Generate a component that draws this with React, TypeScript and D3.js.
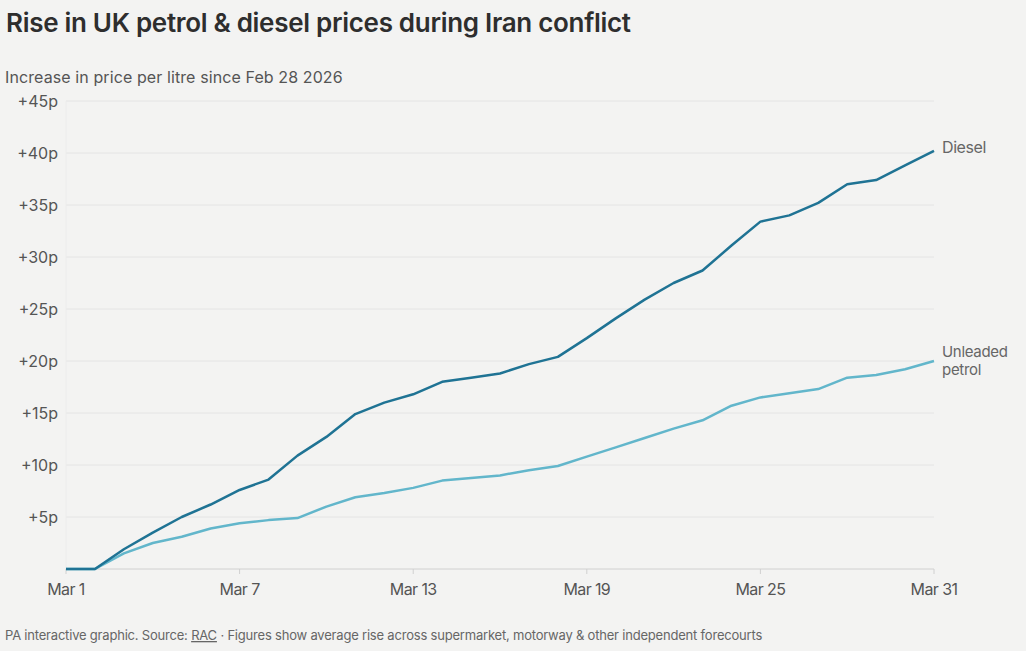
import React from 'react';
import { scaleLinear, line, curveLinear } from 'd3';

// days of March 2026 (1..31)
const days = Array.from({ length: 31 }, (_, i) => i + 1);

// increase in price per litre (pence) since Feb 28 2026
const dieselValues = [
  0, 0, 1.9, 3.5, 5.0, 6.2, 7.6, 8.6, 10.9, 12.7,
  14.9, 16.0, 16.8, 18.0, 18.4, 18.8, 19.7, 20.4, 22.2, 24.1,
  25.9, 27.5, 28.7, 31.1, 33.4, 34.0, 35.2, 37.0, 37.4, 38.8,
  40.2,
];
const petrolValues = [
  0, 0, 1.5, 2.5, 3.1, 3.9, 4.4, 4.7, 4.9, 6.0,
  6.9, 7.3, 7.8, 8.5, 8.75, 9.0, 9.5, 9.9, 10.8, 11.7,
  12.6, 13.5, 14.3, 15.7, 16.5, 16.9, 17.3, 18.4, 18.65, 19.2,
  20.0,
];

const yTicks = [5, 10, 15, 20, 25, 30, 35, 40, 45];
const xTicks = [1, 7, 13, 19, 25, 31];

const DIESEL = '#1f7394';
const PETROL = '#62b6cb';
const FONT = 'Inter, Roboto, "Noto Sans", sans-serif';

const App = () => {
  const width = 1026;
  const height = 651;
  const margin = { left: 66, right: 92, top: 101, bottom: 82 };

  const x = scaleLinear().domain([1, 31]).range([margin.left, width - margin.right]);
  const y = scaleLinear().domain([0, 45]).range([height - margin.bottom, margin.top]);

  const pathFor = (vals: number[]) =>
    line<number>()
      .x((_, i) => x(days[i]))
      .y(d => y(d))
      .curve(curveLinear)(vals) || '';

  const last = days.length - 1;
  const labelX = x(days[last]) + 8;

  return (
    <svg
      width={width}
      height={height}
      style={{ position: 'absolute', left: 0, top: 0, background: '#f3f3f2', fontFamily: FONT }}
    >
      <text x={6} y={32} fontSize={26} fontWeight={600} fill="#2e2e2e" letterSpacing={-0.3}>
        Rise in UK petrol &amp; diesel prices during Iran conflict
      </text>
      <text x={5} y={83} fontSize={16} fill="#555" letterSpacing={0.1}>
        Increase in price per litre since Feb 28 2026
      </text>

      {yTicks.map(t => (
        <g key={t}>
          <line x1={margin.left} x2={width - margin.right} y1={y(t)} y2={y(t)} stroke="#e4e4e4" strokeWidth={1} />
          <text x={58} y={y(t)} dy="0.35em" textAnchor="end" fontSize={16} fill="#555">
            +{t}p
          </text>
        </g>
      ))}

      <line x1={margin.left} x2={margin.left} y1={margin.top} y2={y(0)} stroke="#ececec" />
      <line x1={margin.left} x2={width - margin.right} y1={y(0)} y2={y(0)} stroke="#d0d0d0" />

      {xTicks.map(t => (
        <g key={t}>
          <line x1={x(t)} x2={x(t)} y1={y(0)} y2={y(0) + 5} stroke="#d0d0d0" />
          <text x={x(t)} y={y(0) + 26} textAnchor="middle" fontSize={16} fill="#555" letterSpacing={-0.6}>
            Mar {t}
          </text>
        </g>
      ))}

      <path d={pathFor(petrolValues)} fill="none" stroke={PETROL} strokeWidth={2.5} strokeLinejoin="round" />
      <path d={pathFor(dieselValues)} fill="none" stroke={DIESEL} strokeWidth={2.5} strokeLinejoin="round" />

      <text x={labelX} y={y(dieselValues[last])} dy="0.1em" fontSize={16} fill="#666" letterSpacing={-0.4}>
        Diesel
      </text>
      <text x={labelX} y={y(petrolValues[last]) - 4} fontSize={15} fill="#666" letterSpacing={-0.3}>
        Unleaded
      </text>
      <text x={labelX} y={y(petrolValues[last]) + 14} fontSize={15} fill="#666" letterSpacing={-0.3}>
        petrol
      </text>

      <text x={5} y={640} fontSize={13} fill="#666" letterSpacing={-0.2}>
        PA interactive graphic. Source: <tspan textDecoration="underline">RAC</tspan> · Figures show average rise across supermarket, motorway &amp; other independent forecourts
      </text>
    </svg>
  );
};

export default App;
